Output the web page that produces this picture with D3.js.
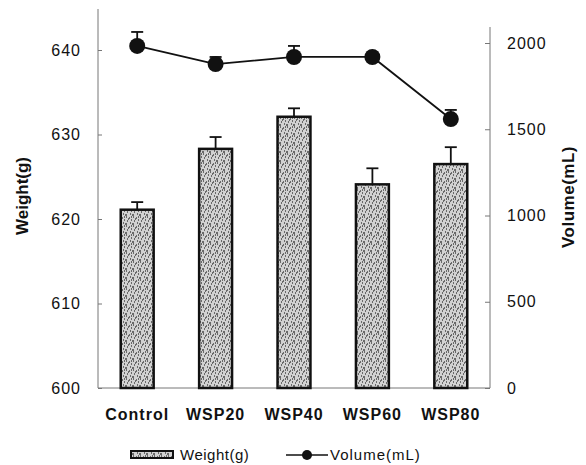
<!DOCTYPE html>
<html>
<head>
<meta charset="utf-8">
<script src="https://cdn.jsdelivr.net/npm/d3@7"></script>
<style>
  body { margin: 0; background: #fff; }
  text { font-family: "Liberation Sans", Arial, sans-serif; fill: #111; }
</style>
</head>
<body>
<div id="chart"></div>
<script>
// data
var groups = ["Control", "WSP20", "WSP40", "WSP60", "WSP80"];
var weight = [621.1, 628.3, 632.1, 624.1, 626.5];
var weightErr = [0.9, 1.4, 1.0, 1.9, 2.0];
var volume = [1983, 1878, 1919, 1919, 1559];
var volumeErr = [81, 41, 64, 0, 53];
var weightTicks = [600, 610, 620, 630, 640];
var volumeTicks = [0, 500, 1000, 1500, 2000];

var W = 586, H = 465;
var x0 = 98, x1 = 490, yBase = 388;

var svg = d3.select("#chart").append("svg")
    .attr("width", W)
    .attr("height", H);

// stipple pattern for the bars
var defs = svg.append("defs");
var pat = defs.append("pattern")
    .attr("id", "stipple")
    .attr("patternUnits", "userSpaceOnUse")
    .attr("width", 7).attr("height", 9);
pat.append("rect").attr("width", 7).attr("height", 9).attr("fill", "#d2d2d2");
var specks = [[0,0],[3,1],[5,3],[1,4],[4,6],[6,7],[2,2],[0,7],[5,0]];
pat.selectAll("rect.s").data(specks).enter().append("rect")
    .attr("class", "s")
    .attr("x", function(d) { return d[0]; })
    .attr("y", function(d) { return d[1]; })
    .attr("width", 1).attr("height", 2)
    .attr("fill", "#6a6a6a");

// scales
var x = d3.scaleBand().domain(groups).range([x0, x1]).paddingInner(0.58).paddingOuter(0.29);
var yL = d3.scaleLinear().domain([600, 640]).range([yBase, 50]);
var yR = d3.scaleLinear().domain([0, 2000]).range([yBase, 43]);

function styleTicks(ax) {
  ax.select(".domain").remove();
  ax.selectAll(".tick line").attr("stroke", "#777");
  ax.selectAll(".tick text")
      .attr("font-size", 16)
      .attr("font-family", "Liberation Sans, Arial, sans-serif")
      .style("letter-spacing", "1px")
      .attr("fill", "#111");
}

// left axis
var axL = svg.append("g")
    .attr("transform", "translate(" + x0 + ",0)")
    .call(d3.axisLeft(yL).tickValues(weightTicks).tickSize(-4).tickPadding(17));
styleTicks(axL);
axL.append("line").attr("x1", 0).attr("x2", 0).attr("y1", 9).attr("y2", yBase).attr("stroke", "#777");

// right axis
var axR = svg.append("g")
    .attr("transform", "translate(" + x1 + ",0)")
    .call(d3.axisRight(yR).tickValues(volumeTicks).tickFormat(d3.format("d")).tickSize(-5).tickPadding(17));
styleTicks(axR);
axR.append("line").attr("x1", 0).attr("x2", 0).attr("y1", 27).attr("y2", yBase).attr("stroke", "#777");

// baseline
svg.append("line")
    .attr("x1", x0).attr("x2", x1).attr("y1", yBase).attr("y2", yBase)
    .attr("stroke", "#777");

// bars
svg.selectAll("rect.bar").data(groups).enter().append("rect")
    .attr("class", "bar")
    .attr("x", function(d) { return x(d); })
    .attr("y", function(d, i) { return yL(weight[i]); })
    .attr("width", x.bandwidth())
    .attr("height", function(d, i) { return yBase - yL(weight[i]); })
    .attr("fill", "url(#stipple)")
    .attr("stroke", "#111")
    .attr("stroke-width", 2.5);

// bar error bars (upper only)
var cx = function(d) { return x(d) + x.bandwidth() / 2; };
var eb = svg.selectAll("g.eb").data(groups).enter().append("g").attr("class", "eb");
eb.append("line")
    .attr("x1", cx).attr("x2", cx)
    .attr("y1", function(d, i) { return yL(weight[i]); })
    .attr("y2", function(d, i) { return yL(weight[i] + weightErr[i]); })
    .attr("stroke", "#111").attr("stroke-width", 1.8);
eb.append("line")
    .attr("x1", function(d) { return cx(d) - 6; })
    .attr("x2", function(d) { return cx(d) + 6; })
    .attr("y1", function(d, i) { return yL(weight[i] + weightErr[i]); })
    .attr("y2", function(d, i) { return yL(weight[i] + weightErr[i]); })
    .attr("stroke", "#111").attr("stroke-width", 1.8);

// volume line
var line = d3.line()
    .x(function(d, i) { return cx(groups[i]); })
    .y(function(d) { return yR(d); });
svg.append("path").datum(volume)
    .attr("d", line)
    .attr("fill", "none")
    .attr("stroke", "#111")
    .attr("stroke-width", 1.8);

var ve = svg.selectAll("g.ve").data(groups).enter().append("g").attr("class", "ve");
ve.append("line")
    .attr("x1", cx).attr("x2", cx)
    .attr("y1", function(d, i) { return yR(volume[i]); })
    .attr("y2", function(d, i) { return yR(volume[i] + volumeErr[i]); })
    .attr("stroke", "#111").attr("stroke-width", 1.8);
ve.append("line")
    .attr("x1", function(d) { return cx(d) - 6; })
    .attr("x2", function(d) { return cx(d) + 6; })
    .attr("y1", function(d, i) { return yR(volume[i] + volumeErr[i]); })
    .attr("y2", function(d, i) { return yR(volume[i] + volumeErr[i]); })
    .attr("stroke", "#111").attr("stroke-width", 1.8);

svg.selectAll("circle.pt").data(groups).enter().append("circle")
    .attr("class", "pt")
    .attr("cx", cx)
    .attr("cy", function(d, i) { return yR(volume[i]); })
    .attr("r", 8)
    .attr("fill", "#111");

// category labels
svg.selectAll("text.cat").data(groups).enter().append("text")
    .attr("class", "cat")
    .attr("x", cx)
    .attr("y", 420)
    .attr("text-anchor", "middle")
    .style("font-size", "16px")
    .style("font-weight", "bold")
    .style("letter-spacing", "1px")
    .text(function(d) { return d; });

// axis titles
svg.append("text")
    .attr("transform", "translate(28,196) rotate(-90)")
    .attr("text-anchor", "middle")
    .style("font-size", "17px")
    .style("font-weight", "bold")
    .text("Weight(g)");
svg.append("text")
    .attr("transform", "translate(574,197) rotate(-90)")
    .attr("text-anchor", "middle")
    .style("font-size", "17px")
    .style("font-weight", "bold")
    .style("letter-spacing", "0.5px")
    .text("Volume(mL)");

// legend
var lg = svg.append("g").attr("transform", "translate(0,455)");
lg.append("rect")
    .attr("x", 131).attr("y", -4).attr("width", 42).attr("height", 7)
    .attr("fill", "url(#stipple)").attr("stroke", "#111").attr("stroke-width", 2);
lg.append("text").attr("x", 180).attr("y", 5).style("font-size", "15px").style("letter-spacing", "0.5px").text("Weight(g)");
lg.append("line").attr("x1", 286).attr("x2", 328).attr("y1", 0).attr("y2", 0)
    .attr("stroke", "#111").attr("stroke-width", 1.5);
lg.append("circle").attr("cx", 307).attr("cy", 0).attr("r", 5).attr("fill", "#111");
lg.append("text").attr("x", 330).attr("y", 5).style("font-size", "15px").style("letter-spacing", "1px").text("Volume(mL)");
</script>
</body>
</html>
